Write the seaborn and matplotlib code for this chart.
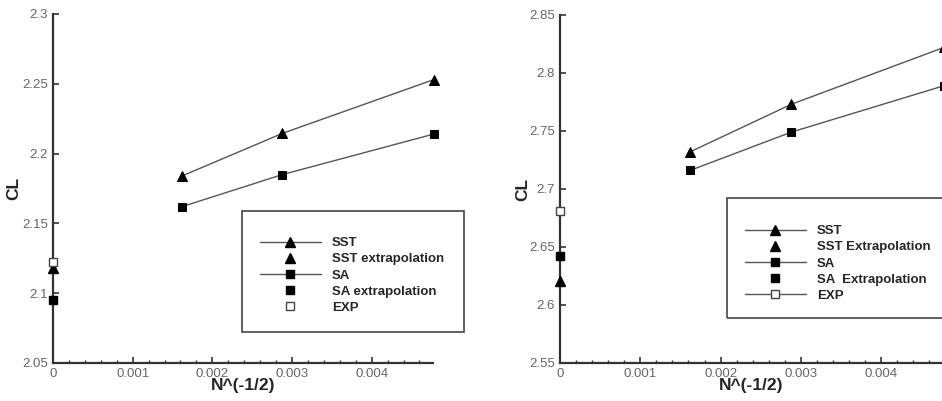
import seaborn as sns
import matplotlib.pyplot as plt
from matplotlib.patches import Rectangle
from matplotlib.lines import Line2D
from matplotlib.ticker import MultipleLocator, FuncFormatter

# grid measure N^(-1/2) for the three meshes
n_grid = [0.00162, 0.00288, 0.00478]

# left case
sst_left = [2.184, 2.2145, 2.253]
sa_left = [2.162, 2.185, 2.214]
sst_ext_left = 2.118
sa_ext_left = 2.095
exp_left = 2.122
labels_left = ['SST', 'SST extrapolation', 'SA', 'SA extrapolation', 'EXP']

# right case
sst_right = [2.732, 2.773, 2.822]
sa_right = [2.716, 2.749, 2.789]
sst_ext_right = 2.621
sa_ext_right = 2.642
exp_right = 2.681
labels_right = ['SST', 'SST Extrapolation', 'SA', 'SA  Extrapolation', 'EXP']

sns.set_style('ticks')
plt.rcParams['font.family'] = ['Liberation Sans', 'DejaVu Sans']

W, H = 942, 401
fig = plt.figure(figsize=(9.42, 4.01), dpi=100)

line_col = '#555555'
spine_col = '#333333'


def fx(px):
    return px / W


def fy(py):
    return 1 - py / H


def panel(ax, sst, sa, sst_ext, sa_ext, exp, ylim, labels, exp_line, leg_xy, box):
    sns.lineplot(x=n_grid, y=sst, ax=ax, color=line_col, lw=1.0, marker='^',
                 markersize=7.5, markerfacecolor='black', markeredgecolor='black', clip_on=False)
    sns.lineplot(x=n_grid, y=sa, ax=ax, color=line_col, lw=1.0, marker='s',
                 markersize=6, markerfacecolor='black', markeredgecolor='black', clip_on=False)
    ax.plot([0], [sst_ext], marker='^', ms=7.5, color='black', ls='none', clip_on=False, zorder=5)
    ax.plot([0], [sa_ext], marker='s', ms=6, color='black', ls='none', clip_on=False, zorder=5)
    ax.plot([0], [exp], marker='s', ms=6, mfc='white', mec='#444444', mew=1.0, ls='none',
            clip_on=False, zorder=6)

    ax.set_xlim(0, 0.00477)
    ax.set_ylim(*ylim)
    ax.xaxis.set_major_locator(MultipleLocator(0.001))
    ax.xaxis.set_minor_locator(MultipleLocator(0.0002))
    ax.yaxis.set_major_locator(MultipleLocator(0.05))
    ax.xaxis.set_major_formatter(FuncFormatter(lambda v, p: '%g' % round(v, 6)))
    ax.yaxis.set_major_formatter(FuncFormatter(lambda v, p: '%g' % round(v, 6)))
    ax.tick_params(which='major', direction='in', length=4.5, width=1.2, color=spine_col,
                   labelsize=9.5, labelcolor='#666666', pad=3.5)
    ax.tick_params(which='minor', direction='in', length=2.5, width=1.0, color=spine_col)
    for s in ['top', 'right']:
        ax.spines[s].set_visible(False)
    for s in ['left', 'bottom']:
        ax.spines[s].set_linewidth(1.6)
        ax.spines[s].set_color(spine_col)
    ax.set_xlabel('N^(-1/2)', fontsize=12.5, fontweight='bold', labelpad=-1.5)
    ax.set_ylabel('CL', fontsize=12.5, fontweight='bold')

    handles = [
        Line2D([], [], color=line_col, lw=1.0, marker='^', ms=6.5, mfc='black', mec='black'),
        Line2D([], [], ls='none', marker='^', ms=6.5, color='black'),
        Line2D([], [], color=line_col, lw=1.0, marker='s', ms=5.5, mfc='black', mec='black'),
        Line2D([], [], ls='none', marker='s', ms=5.5, color='black'),
        Line2D([], [], color=line_col if exp_line else 'none', lw=1.0, marker='s', ms=5.5,
               mfc='white', mec='#444444'),
    ]
    ax.legend(handles, labels, loc='upper left', bbox_to_anchor=(fx(leg_xy[0]), fy(leg_xy[1])),
              bbox_transform=fig.transFigure, frameon=False,
              prop={'size': 9.5, 'weight': 'bold'}, handlelength=4.6, handletextpad=0.85,
              labelspacing=0.3, borderpad=0, borderaxespad=0)

    x0, y0, x1, y1 = box
    fig.add_artist(Rectangle((fx(x0), fy(y1)), fx(x1 - x0), (y1 - y0) / H,
                             transform=fig.transFigure, fill=False, lw=1.2, ec='#444444'))


ax1 = fig.add_axes([fx(53), fy(363), fx(433 - 53), (363 - 14) / H])
ax2 = fig.add_axes([fx(560), fy(363), fx(943 - 560), (363 - 15) / H])

panel(ax1, sst_left, sa_left, sst_ext_left, sa_ext_left, exp_left, (2.05, 2.3),
      labels_left, False, (260, 237), (242, 211, 464, 332))
panel(ax2, sst_right, sa_right, sst_ext_right, sa_ext_right, exp_right, (2.55, 2.85),
      labels_right, True, (745, 225), (727, 198, 960, 318))

ax1.yaxis.set_label_coords(-0.084, 0.5)
ax2.yaxis.set_label_coords(-0.078, 0.5)

fig.savefig('out.png', dpi=100)
